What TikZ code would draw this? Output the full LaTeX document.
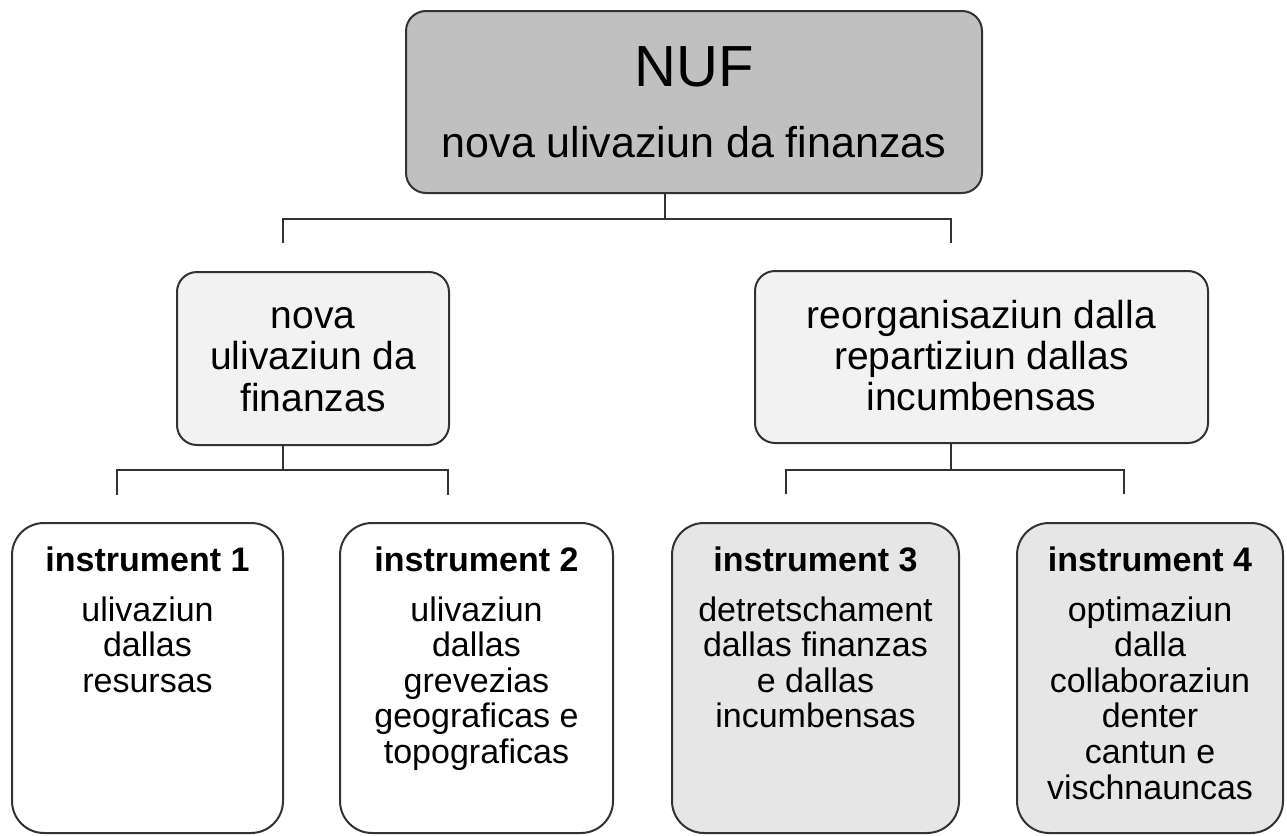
\documentclass[tikz,border=0pt]{standalone}
\usepackage{fontspec}
\setmainfont{Liberation Sans}
\definecolor{bordc}{RGB}{50,50,50}
\definecolor{topfill}{RGB}{192,192,192}
\definecolor{midfill}{RGB}{242,242,242}
\definecolor{lowfill}{RGB}{230,230,230}
\begin{document}
\begin{tikzpicture}[x=1pt,y=-1pt,
  box/.style={draw=bordc, line width=2pt, rounded corners=#1, inner sep=0pt, outer sep=0pt},
  box/.default=20pt,
  conn/.style={draw=bordc, line width=2pt},
  txt/.style={inner sep=0pt, anchor=base, text=black},
  nuffont/.style={txt, font=\fontsize{58}{60}\selectfont},
  topfont/.style={txt, font=\fontsize{43}{48}\selectfont},
  midfont/.style={txt, font=\fontsize{39}{44}\selectfont},
  headfont/.style={txt, font=\fontsize{34}{38}\selectfont\bfseries},
  bodyfont/.style={txt, font=\fontsize{34}{38}\selectfont}]
\useasboundingbox (0,0) rectangle (1287,835);

% boxes
\node[box=20pt, fill=topfill, minimum width=576pt, minimum height=182pt] (top) at (694,102) {};
\node[box=20pt, fill=midfill, minimum width=272pt, minimum height=173pt] (n2a) at (313,358.5) {};
\node[box=20pt, fill=midfill, minimum width=453pt, minimum height=172pt] (n2b) at (981.5,357) {};
\node[box=32pt, fill=white, minimum width=271pt, minimum height=310pt] (b1) at (147.5,678) {};
\node[box=32pt, fill=white, minimum width=273pt, minimum height=310pt] (b2) at (476.5,678) {};
\node[box=32pt, fill=lowfill, minimum width=287pt, minimum height=310pt] (b3) at (815.5,678) {};
\node[box=32pt, fill=lowfill, minimum width=266pt, minimum height=310pt] (b4) at (1150,678) {};

% connectors
\coordinate (t1) at (665,219);
\coordinate (tl) at (283,219);
\coordinate (tr) at (951,219);
\coordinate (tlb) at (283,243);
\coordinate (trb) at (951,243);
\draw[conn] (top.south -| t1) -- (t1);
\draw[conn] (tlb) -- (tl) -- (tr) -- (trb);

\coordinate (ml) at (283,470);
\coordinate (mla) at (117,470);
\coordinate (mlb) at (448,470);
\coordinate (mlad) at (117,495);
\coordinate (mlbd) at (448,495);
\draw[conn] (n2a.south -| ml) -- (ml);
\draw[conn] (mlad) -- (mla) -- (mlb) -- (mlbd);

\coordinate (mr) at (951,470);
\coordinate (mra) at (786,470);
\coordinate (mrb) at (1124,470);
\coordinate (mrad) at (786,494);
\coordinate (mrbd) at (1124,494);
\draw[conn] (n2b.south -| mr) -- (mr);
\draw[conn] (mrad) -- (mra) -- (mrb) -- (mrbd);

% texts
\node[nuffont] (nuf) at (694,86) {NUF};
\node[topfont] (nufsub) at (694,157) {nova ulivaziun da finanzas};

\foreach \s [count=\i] in {nova,ulivaziun da,finanzas}
  \node[midfont] (n2at\i) at (313,{328+41.5*(\i-1)}) {\s};
\foreach \s [count=\i] in {reorganisaziun dalla,repartiziun dallas,incumbensas}
  \node[midfont] (n2bt\i) at (981.5,{328+41*(\i-1)}) {\s};

\node[headfont] (h1) at (147.5,571) {instrument 1};
\node[headfont] (h2) at (476.5,571) {instrument 2};
\node[headfont] (h3) at (815.5,571) {instrument 3};
\node[headfont] (h4) at (1150,571) {instrument 4};

\foreach \s [count=\i] in {ulivaziun,dallas,resursas}
  \node[bodyfont] (b1t\i) at (147.5,{621+35.6*(\i-1)}) {\s};
\foreach \s [count=\i] in {ulivaziun,dallas,grevezias,geograficas e,topograficas}
  \node[bodyfont] (b2t\i) at (476.5,{621+35.6*(\i-1)}) {\s};
\foreach \s [count=\i] in {detretschament,dallas finanzas,e dallas,incumbensas}
  \node[bodyfont] (b3t\i) at (815.5,{621+35.6*(\i-1)}) {\s};
\foreach \s [count=\i] in {optimaziun,dalla,collaboraziun,denter,cantun e,vischnauncas}
  \node[bodyfont] (b4t\i) at (1150,{621+35.6*(\i-1)}) {\s};
\end{tikzpicture}
\end{document}
